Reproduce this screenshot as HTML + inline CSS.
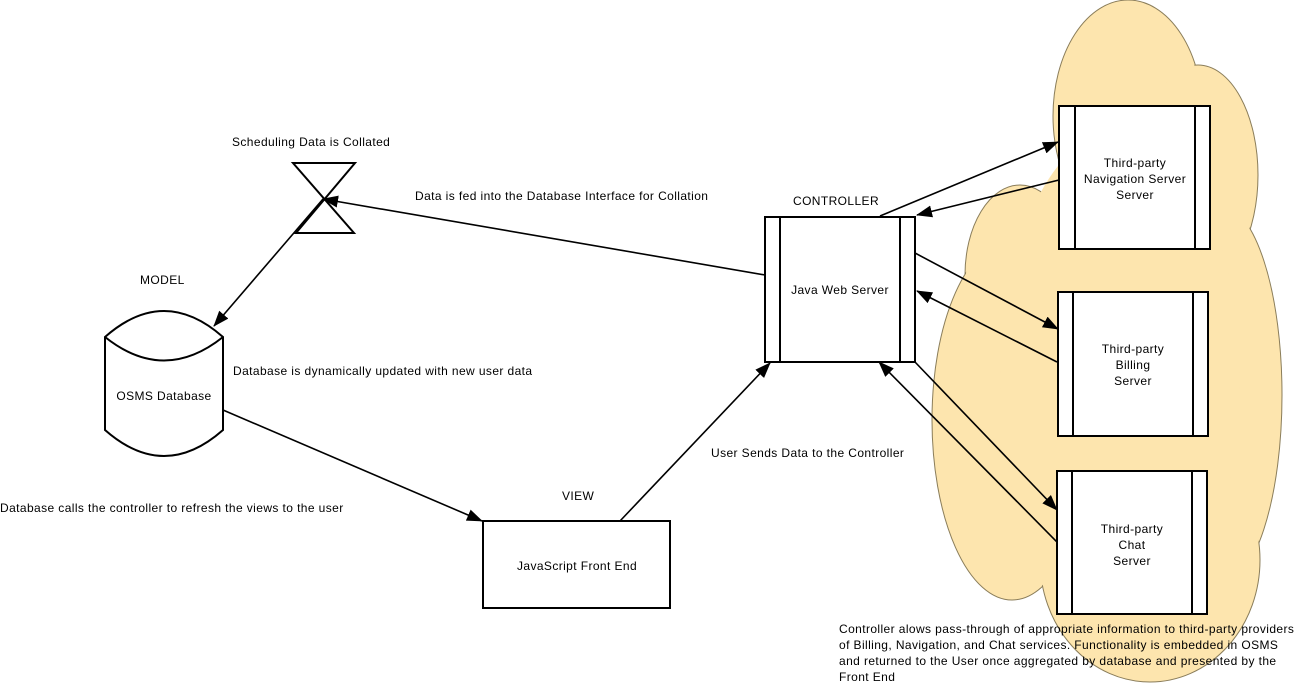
<!DOCTYPE html>
<html><head><meta charset="utf-8"><style>
html,body{margin:0;padding:0;background:#fff;}
svg{display:block;font-family:"Liberation Sans",sans-serif;font-size:12px;letter-spacing:0.4px;}
</style></head><body>
<svg width="1297" height="685" viewBox="0 0 1297 685" xmlns="http://www.w3.org/2000/svg">
<defs>
<marker id="a" viewBox="0 0 16 12" refX="15" refY="6" markerWidth="16" markerHeight="12" markerUnits="userSpaceOnUse" orient="auto">
<path d="M0,0 L16,6 L0,12 Z" fill="#000"/>
</marker>
</defs>
<g stroke="#8a7d5a" stroke-width="1" fill="#fde5ae">
<ellipse cx="1128" cy="116" rx="75" ry="116"/>
<ellipse cx="1198" cy="175" rx="60" ry="110"/>
<ellipse cx="1020" cy="275" rx="55" ry="90"/>
<ellipse cx="1012" cy="420" rx="80" ry="180"/>
<ellipse cx="1220" cy="395" rx="62" ry="190"/>
<ellipse cx="1150" cy="560" rx="110" ry="122"/>
</g>
<g fill="#fde5ae">
<ellipse cx="1128" cy="116" rx="74" ry="115"/>
<ellipse cx="1198" cy="175" rx="59" ry="109"/>
<ellipse cx="1020" cy="275" rx="54" ry="89"/>
<ellipse cx="1012" cy="420" rx="79" ry="179"/>
<ellipse cx="1220" cy="395" rx="61" ry="189"/>
<ellipse cx="1150" cy="560" rx="109" ry="121"/>
<ellipse cx="1120" cy="380" rx="120" ry="250"/>
</g>
<g stroke="#000" stroke-width="2" fill="#fff">
<rect x="765" y="217" width="150" height="145"/>
<line x1="780" y1="217" x2="780" y2="362"/><line x1="900" y1="217" x2="900" y2="362"/>
<rect x="1059" y="106" width="151" height="143"/>
<line x1="1075" y1="106" x2="1075" y2="249"/><line x1="1195" y1="106" x2="1195" y2="249"/>
<rect x="1058" y="292" width="150" height="144"/>
<line x1="1073" y1="292" x2="1073" y2="436"/><line x1="1193" y1="292" x2="1193" y2="436"/>
<rect x="1057" y="471" width="150" height="143"/>
<line x1="1072" y1="471" x2="1072" y2="614"/><line x1="1192" y1="471" x2="1192" y2="614"/>
<rect x="483" y="521" width="187" height="87"/>
<path d="M105,337 Q164,285 223,337 L223,430 Q164,482 105,430 Z"/>
<path d="M105,337 Q164,384 223,337" fill="none"/>
<path d="M293,163 L355,163 L296,233 L354,233 Z" fill="none"/>
</g>
<g stroke="#000" stroke-width="1.6" fill="none" marker-end="url(#a)">
<line x1="765" y1="275" x2="323" y2="199"/>
<line x1="323" y1="199" x2="214" y2="326"/>
<line x1="223" y1="410" x2="482" y2="521"/>
<line x1="620" y1="521" x2="770" y2="363"/>
<line x1="880" y1="216" x2="1058" y2="142"/>
<line x1="1059" y1="180" x2="917" y2="215"/>
<line x1="915" y1="253" x2="1058" y2="329"/>
<line x1="1057" y1="362" x2="917" y2="291"/>
<line x1="915" y1="362" x2="1057" y2="510"/>
<line x1="1057" y1="542" x2="879" y2="362"/>
</g>
<g fill="#000">
<text x="232" y="146">Scheduling Data is Collated</text>
<text x="415" y="200">Data is fed into the Database Interface for Collation</text>
<text x="793" y="205">CONTROLLER</text>
<text x="840" y="294" text-anchor="middle">Java Web Server</text>
<text x="140" y="284">MODEL</text>
<text x="164" y="400" text-anchor="middle">OSMS Database</text>
<text x="233" y="375">Database is dynamically updated with new user data</text>
<text x="711" y="457">User Sends Data to the Controller</text>
<text x="0" y="512">Database calls the controller to refresh the views to the user</text>
<text x="562" y="500">VIEW</text>
<text x="577" y="570" text-anchor="middle">JavaScript Front End</text>
<text text-anchor="middle"><tspan x="1135" y="167">Third-party</tspan><tspan x="1135" y="183">Navigation Server</tspan><tspan x="1135" y="199">Server</tspan></text>
<text text-anchor="middle"><tspan x="1133" y="353">Third-party</tspan><tspan x="1133" y="369">Billing</tspan><tspan x="1133" y="385">Server</tspan></text>
<text text-anchor="middle"><tspan x="1132" y="533">Third-party</tspan><tspan x="1132" y="549">Chat</tspan><tspan x="1132" y="565">Server</tspan></text>
<text><tspan x="839" y="633">Controller alows pass-through of appropriate information to third-party providers</tspan><tspan x="839" y="649">of Billing, Navigation, and Chat services. Functionality is embedded in OSMS</tspan><tspan x="839" y="665">and returned to the User once aggregated by database and presented by the</tspan><tspan x="839" y="681">Front End</tspan></text>
</g>
</svg>
</body></html>
